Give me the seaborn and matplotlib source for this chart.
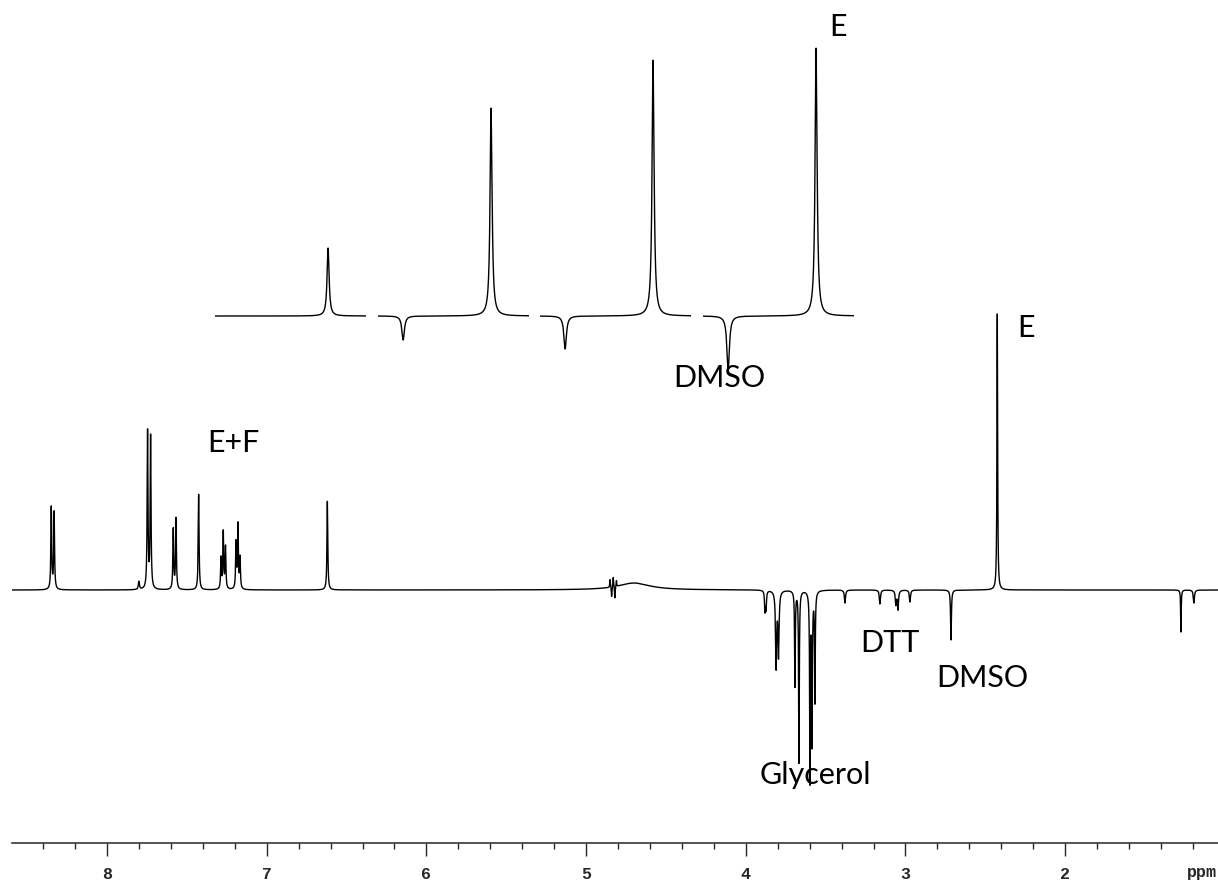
import numpy as np
import matplotlib
matplotlib.use('Agg')
import matplotlib.pyplot as plt
import seaborn as sns
from matplotlib.ticker import MultipleLocator

# --- DATA ---
# main 1H trace: line positions (ppm), heights (arb. units, baseline = 0), half widths (ppm)
MAIN_PPM = [8.349, 8.331, 7.80, 7.746, 7.727, 7.585, 7.568, 7.426,
            7.286, 7.272, 7.258, 7.192, 7.180, 7.167, 6.620,
            4.85, 4.84, 4.83, 4.82, 4.81, 4.70,
            3.880, 3.873, 3.810, 3.795, 3.692, 3.667, 3.598, 3.585, 3.567,
            3.379, 3.160, 3.060, 3.047, 2.972, 2.715, 2.425, 1.275, 1.194]
MAIN_HEIGHT = [82, 77, 8, 158, 152, 60, 71, 96,
               31, 57, 42, 46, 64, 31, 89,
               8, -10, 10, -12, 6, 7,
               -20, -18, -76, -64, -96, -172, -190, -150, -110,
               -13, -14, -14, -19, -12, -50, 276, -42, -13]
MAIN_WIDTH = [0.003, 0.003, 0.004, 0.003, 0.003, 0.003, 0.003, 0.003,
              0.003, 0.003, 0.003, 0.003, 0.003, 0.003, 0.003,
              0.002, 0.002, 0.002, 0.002, 0.002, 0.12,
              0.003, 0.003, 0.004, 0.004, 0.0025, 0.0025, 0.0025, 0.0025, 0.0025,
              0.004, 0.004, 0.004, 0.004, 0.004, 0.003, 0.0025, 0.002, 0.004]

# inset: DMSO / E region for four experiments
INSET_PPM = [2.715, 2.425]
INSET_WIDTH = [0.005, 0.004]
INSET_HEIGHTS = [[0, 68], [-24, 208], [-33, 256], [-54, 268]]

LABELS = ['E+F', 'E', 'DTT', 'DMSO', 'Glycerol', 'DMSO', 'E']
LABEL_PPM = [7.211, 2.245, 3.097, 2.521, 3.567, 4.168, 3.423]
LABEL_Y = [147, 262, -53, -88, -185, 212, 563]

MAJOR_TICKS = [8, 7, 6, 5, 4, 3, 2]
# ---------------------


def lorentz_sum(x, centers, heights, widths):
    y = np.zeros_like(x)
    for c, h, w in zip(centers, heights, widths):
        y += h / (1.0 + ((x - c) / w) ** 2)
    return y


W, H = 1218, 883
fig = plt.figure(figsize=(W / 100, H / 100), dpi=100)
sns.set_style('white')
plt.rcParams['font.family'] = ['Lato', 'DejaVu Sans']

ax = fig.add_axes([12 / W, 40 / H, 1206 / W, 843 / H])
ppm = np.arange(1.043, 8.595, 0.0004)
spec = lorentz_sum(ppm, MAIN_PPM, MAIN_HEIGHT, MAIN_WIDTH)
sns.lineplot(x=ppm, y=spec, ax=ax, color='black', linewidth=1.0,
             estimator=None, sort=False)
ax.set_xlim(8.595, 1.043)
ax.set_ylim(-253, 590)

for s in ['top', 'left', 'right']:
    ax.spines[s].set_visible(False)
ax.spines['bottom'].set_linewidth(1.1)
ax.set_yticks([])
ax.xaxis.set_major_locator(MultipleLocator(1))
ax.xaxis.set_minor_locator(MultipleLocator(0.2))
ax.set_xticks(MAJOR_TICKS)
ax.set_xticklabels([str(t) for t in MAJOR_TICKS])
ax.tick_params(axis='x', which='major', direction='out', length=9.5, width=1.0,
               pad=8, labelsize=12, bottom=True)
ax.tick_params(axis='x', which='minor', direction='out', length=4.5, width=1.0,
               bottom=True)
for lbl in ax.get_xticklabels():
    lbl.set_fontfamily('Liberation Mono')
    lbl.set_fontweight('bold')
ax.set_xlabel('')
ax.set_ylabel('')
fig.text(1202 / W, 6 / H, 'ppm', ha='center', va='baseline',
         fontsize=12, fontweight='bold', family='Liberation Mono')

for txt, xp, yp in zip(LABELS, LABEL_PPM, LABEL_Y):
    ax.text(xp, yp, txt, ha='center', va='center', fontsize=22,
            fontweight='normal', color='black')

# inset traces, one small axes per experiment
seg_left = [215, 378, 540, 703]
seg_ppm = np.arange(2.300, 2.798, 0.0003)
for left, heights in zip(seg_left, INSET_HEIGHTS):
    iax = fig.add_axes([left / W, (H - 400) / H, 151 / W, 400 / H])
    trace = lorentz_sum(seg_ppm, INSET_PPM, heights, INSET_WIDTH)
    sns.lineplot(x=seg_ppm, y=trace, ax=iax, color='black', linewidth=1.0,
                 estimator=None, sort=False)
    iax.set_xlim(2.798, 2.300)
    iax.set_ylim(-84, 316)
    iax.axis('off')
    iax.patch.set_alpha(0)

fig.savefig('out.png', dpi=100, facecolor='white')
